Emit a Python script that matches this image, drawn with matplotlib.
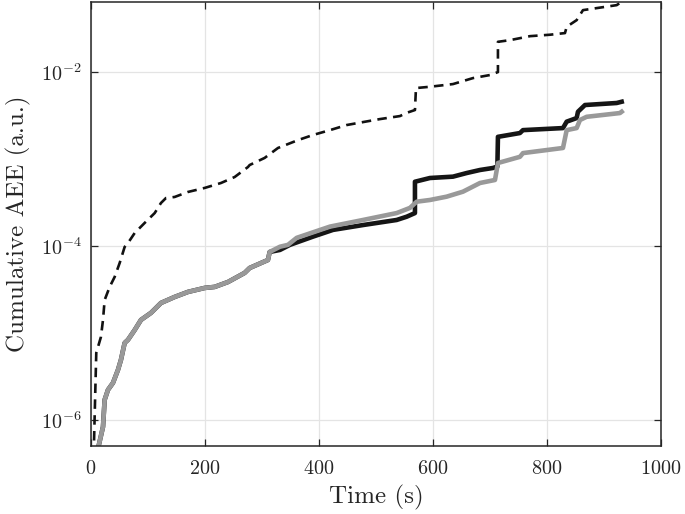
import numpy as np
import matplotlib
matplotlib.use("Agg")
import matplotlib.pyplot as plt
from matplotlib.ticker import NullLocator, FixedLocator, LogFormatterMathtext

plt.rcParams["font.family"] = "serif"
plt.rcParams["font.serif"] = ["cmr10", "DejaVu Serif"]
plt.rcParams["mathtext.fontset"] = "cm"
plt.rcParams["axes.formatter.use_mathtext"] = True

# dashed curve (upper)
t_dash = [4, 7.5, 9.3, 17.5, 21.1, 24.0, 32.8, 41.6, 50.4, 59.1, 64.9, 76.7, 94.2,
          111.8, 122.8, 131.6, 146.8, 170.2, 199.5, 228.1, 252.1, 275.4, 278.4,
          304.7, 328.1, 363.2, 389.5, 419.3, 448.6, 477.2, 507.0, 542.1, 553.9,
          568.4, 570.2, 594.7, 635.1, 670.2, 700.0, 714.0, 714.0, 735.1, 770.2,
          805.3, 831.6, 834.6, 852.1, 863.2, 898.2, 922.3, 931.1]
aee_dash = [2.5e-7, 2.04e-6, 5.89e-6, 9.0e-6, 1.41e-5, 2.39e-5, 3.38e-5, 4.41e-5,
            6.38e-5, 9.75e-5, 1.08e-4, 1.41e-4, 1.84e-4, 2.39e-4, 3.12e-4, 3.56e-4,
            3.66e-4, 4.18e-4, 4.65e-4, 5.30e-4, 6.21e-4, 8.09e-4, 8.53e-4, 1.03e-3,
            1.34e-3, 1.65e-3, 1.89e-3, 2.15e-3, 2.46e-3, 2.66e-3, 2.88e-3, 3.12e-3,
            3.40e-3, 3.66e-3, 6.55e-3, 6.78e-3, 7.28e-3, 8.53e-3, 9.25e-3, 1.0e-2,
            2.23e-2, 2.33e-2, 2.59e-2, 2.69e-2, 2.81e-2, 3.32e-2, 3.96e-2, 5.16e-2,
            5.58e-2, 5.89e-2, 6.43e-2]

# black solid curve
t_black = [10, 21.1, 24.0, 29.8, 38.6, 47.4, 52.6, 59.1, 64.9, 76.7, 87.7, 105.3,
           122.8, 146.8, 170.2, 199.5, 217.0, 240.4, 269.6, 278.4, 310.5, 313.5,
           331.6, 349.1, 389.5, 424.6, 477.2, 536.3, 553.9, 568.4, 568.4, 594.7,
           635.1, 659.1, 682.5, 705.3, 713.0, 714.0, 752.6, 757.9, 828.1, 834.6,
           852.1, 854.4, 866.7, 922.3, 931.1]
aee_black = [4.0e-7, 8.3e-7, 1.70e-6, 2.21e-6, 2.66e-6, 3.76e-6, 4.90e-6, 7.67e-6,
             8.32e-6, 1.08e-5, 1.41e-5, 1.70e-5, 2.21e-5, 2.59e-5, 2.96e-5, 3.29e-5,
             3.38e-5, 3.85e-5, 4.90e-5, 5.58e-5, 6.90e-5, 8.53e-5, 9.0e-5, 1.03e-4,
             1.28e-4, 1.53e-4, 1.74e-4, 1.99e-4, 2.17e-4, 2.39e-4, 5.48e-4, 6.05e-4,
             6.27e-4, 6.90e-4, 7.48e-4, 7.89e-4, 8.2e-4, 1.80e-3, 1.99e-3, 2.15e-3,
             2.27e-3, 2.69e-3, 2.96e-3, 3.50e-3, 4.18e-3, 4.41e-3, 4.56e-3]

# grey solid curve
t_grey = [10, 21.1, 24.0, 29.8, 38.6, 47.4, 52.6, 59.1, 64.9, 76.7, 87.7, 105.3,
          122.8, 146.8, 170.2, 199.5, 217.0, 240.4, 269.6, 278.4, 310.5, 313.5,
          331.6, 345.6, 360.9, 419.3, 477.2, 536.3, 559.6, 571.4, 594.7, 624.0,
          652.6, 682.5, 708.8, 714.0, 752.6, 757.9, 828.1, 834.6, 852.1, 857.9,
          869.6, 928.1, 931.1]
aee_grey = [4.0e-7, 8.3e-7, 1.70e-6, 2.21e-6, 2.66e-6, 3.76e-6, 4.90e-6, 7.67e-6,
            8.32e-6, 1.08e-5, 1.41e-5, 1.70e-5, 2.21e-5, 2.59e-5, 2.96e-5, 3.29e-5,
            3.38e-5, 3.85e-5, 4.90e-5, 5.58e-5, 6.90e-5, 8.53e-5, 9.8e-5, 1.03e-4,
            1.24e-4, 1.67e-4, 1.99e-4, 2.39e-4, 2.74e-4, 3.23e-4, 3.38e-4, 3.69e-4,
            4.21e-4, 5.30e-4, 5.74e-4, 9.0e-4, 1.06e-3, 1.17e-3, 1.34e-3, 2.15e-3,
            2.27e-3, 2.81e-3, 3.06e-3, 3.38e-3, 3.50e-3]

x_ticks = [0, 200, 400, 600, 800, 1000]
y_ticks = [1e-6, 1e-4, 1e-2]

fig = plt.figure(figsize=(6.85, 5.14), dpi=100)
ax = fig.add_axes([0.1328, 0.1323, 0.8321, 0.8638])

ax.plot(t_dash, aee_dash, color="#111111", lw=1.9, ls=(0, (3.6, 2.4)))
ax.plot(t_black, aee_black, color="#151515", lw=3.3, solid_joinstyle="round")
ax.plot(t_grey, aee_grey, color="#999999", lw=3.3, solid_joinstyle="round")

ax.set_yscale("log")
ax.set_xlim(0, 1000)
ax.set_ylim(5.0e-7, 6.4e-2)
ax.set_xticks(x_ticks)
ax.yaxis.set_major_locator(FixedLocator(y_ticks))
ax.yaxis.set_major_formatter(LogFormatterMathtext())
ax.yaxis.set_minor_locator(NullLocator())

ax.grid(True, color="#e4e4e4", lw=0.9)
ax.set_axisbelow(True)
ax.tick_params(direction="in", length=5, width=0.9, top=True, right=True,
               labelsize=14.5, colors="#262626", pad=7)
ax.tick_params(axis="x", pad=10)
for s in ax.spines.values():
    s.set_linewidth(1.1)
    s.set_color("#262626")

ax.set_xlabel("Time (s)", fontsize=18, color="#262626", labelpad=5)
ax.set_ylabel("Cumulative AEE (a.u.)", fontsize=18, color="#262626", labelpad=7)

fig.savefig("out.png", dpi=100)
